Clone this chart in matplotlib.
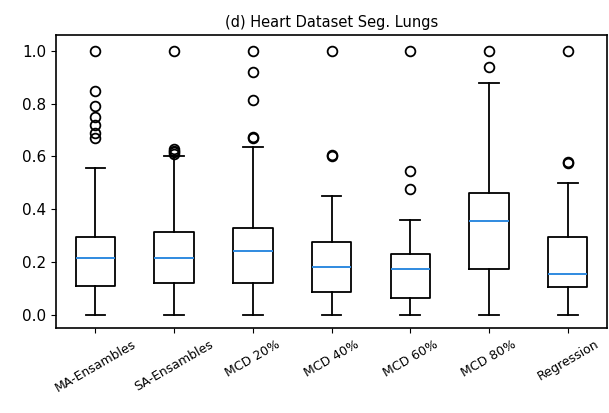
import matplotlib.pyplot as plt

# box statistics
labels = ["MA-Ensambles", "SA-Ensambles", "MCD 20%", "MCD 40%", "MCD 60%", "MCD 80%", "Regression"]
whislo = [0.0, 0.0, 0.0, 0.0, 0.0, 0.0, 0.0]
q1 = [0.11, 0.12, 0.12, 0.085, 0.065, 0.175, 0.105]
med = [0.215, 0.215, 0.24, 0.18, 0.175, 0.355, 0.155]
q3 = [0.295, 0.315, 0.33, 0.275, 0.23, 0.46, 0.295]
whishi = [0.555, 0.60, 0.635, 0.45, 0.36, 0.88, 0.50]
fliers = [
    [0.67, 0.69, 0.72, 0.75, 0.79, 0.85, 1.0],
    [0.61, 0.615, 0.62, 0.63, 1.0],
    [0.67, 0.675, 0.815, 0.92, 1.0],
    [0.60, 0.605, 1.0],
    [0.475, 0.545, 1.0],
    [0.94, 1.0],
    [0.575, 0.58, 1.0],
]

stats = []
for i in range(len(labels)):
    stats.append(dict(label=labels[i], whislo=whislo[i], q1=q1[i], med=med[i],
                      q3=q3[i], whishi=whishi[i], fliers=fliers[i]))

fig = plt.figure(figsize=(6.09, 4.13), dpi=100)
ax = fig.add_axes([0.092, 0.206, 0.905, 0.709])
lw = 1.3
ax.bxp(stats,
       boxprops=dict(linewidth=lw), whiskerprops=dict(linewidth=lw), capprops=dict(linewidth=lw),
       medianprops=dict(color="#2f8ae0", linewidth=1.4),
       flierprops=dict(marker="o", markerfacecolor="none", markeredgecolor="black",
                       markersize=7, markeredgewidth=1.3))
ax.set_ylim(-0.05, 1.06)
for s in ax.spines.values():
    s.set_linewidth(1.2)
ax.set_title("(d) Heart Dataset Seg. Lungs", fontsize=10.5)
ax.tick_params(labelsize=11)
plt.setp(ax.get_xticklabels(), rotation=30, ha="center", fontsize=9)

fig.savefig("out.png", dpi=100)
